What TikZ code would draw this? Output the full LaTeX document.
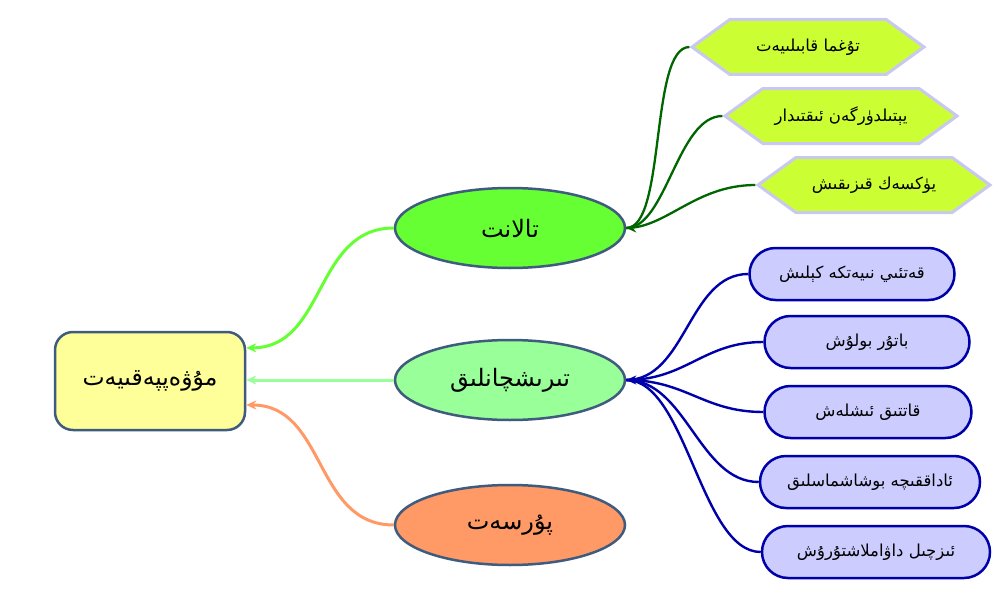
\documentclass[tikz,border=0pt]{standalone}
\usepackage{fontspec}
\usetikzlibrary{shapes.symbols,shapes.geometric,arrows.meta}
\newfontfamily\arabicfont[Script=Arabic]{DejaVu Sans}
\TeXXeTstate=1
\newcommand{\uytext}[1]{\arabicfont\beginR #1\endR}
\definecolor{boxborder}{HTML}{3F5C7E}
\definecolor{succfill}{HTML}{FFFF99}
\definecolor{talfill}{HTML}{66FF33}
\definecolor{dilfill}{HTML}{99FF99}
\definecolor{oppfill}{HTML}{FF9966}
\definecolor{hexfill}{HTML}{CCFF33}
\definecolor{hexborder}{HTML}{C8C8F0}
\definecolor{pillfill}{HTML}{CCCCFF}
\definecolor{pillborder}{HTML}{0000AA}
\definecolor{darkgreen}{HTML}{006600}
\tikzset{
  mainellipse/.style={ellipse, draw=boxborder, line width=2.5pt, minimum width=230pt, minimum height=80pt, inner sep=0pt, font=\fontsize{24}{28}\selectfont},
  succbox/.style={rectangle, rounded corners=18pt, draw=boxborder, line width=2.5pt, fill=succfill, minimum width=190pt, minimum height=98pt, font=\fontsize{23.5}{28}\selectfont},
  hexbox/.style={signal, signal to=east and west, signal pointer angle=72, draw=hexborder, line width=3pt, fill=hexfill, minimum width=232pt, minimum height=55pt, inner sep=0pt, font=\fontsize{16.5}{20}\selectfont},
  pillbox/.style={rectangle, rounded corners=26pt, draw=pillborder, line width=2.5pt, fill=pillfill, minimum height=52pt, inner sep=0pt, font=\fontsize{16.5}{20}\selectfont},
  talconn/.style={draw=talfill, line width=3pt, -{Stealth[length=10pt,width=9pt]}},
  dilconn/.style={draw=dilfill, line width=3pt, -{Stealth[length=10pt,width=9pt]}},
  oppconn/.style={draw=oppfill, line width=3pt, -{Stealth[length=10pt,width=9pt]}},
  hexconn/.style={draw=darkgreen, line width=2.3pt},
  pillconn/.style={draw=pillborder, line width=2.4pt},
}
\begin{document}
\begin{tikzpicture}[x=1pt,y=-1pt]
\useasboundingbox[fill=white] (0,0) rectangle (1004,594);
% main nodes
\node[succbox] (succ) at (150,381) {\uytext{مۇۋەپپەقىيەت}};
\node[mainellipse, fill=talfill] (tal) at (510,228) {\uytext{تالانت}};
\node[mainellipse, fill=dilfill] (dil) at (510,380) {\uytext{تىرىشچانلىق}};
\node[mainellipse, fill=oppfill] (opp) at (510,525) {\uytext{پۇرسەت}};
% hexagons
\node[hexbox] (h1) at (808,47) {\uytext{تۇغما قابىلىيەت}};
\node[hexbox] (h2) at (841,116) {\uytext{يېتىلدۈرگەن ئىقتىدار}};
\node[hexbox] (h3) at (874,185) {\uytext{يۈكسەك قىزىقىش}};
% pills
\node[pillbox, minimum width=205pt] (p1) at (852,274) {\uytext{قەتئىي نىيەتكە كېلىش}};
\node[pillbox, minimum width=205pt] (p2) at (867,342) {\uytext{باتۇر بولۇش}};
\node[pillbox, minimum width=207pt] (p3) at (868,412) {\uytext{قاتتىق ئىشلەش}};
\node[pillbox, minimum width=220pt] (p4) at (870,482) {\uytext{ئاداققىچە بوشاشماسلىق}};
\node[pillbox, minimum width=228pt] (p5) at (876,552) {\uytext{ئىزچىل داۋاملاشتۇرۇش}};
% connectors to success
\draw[talconn] (tal.west) .. controls +(-80,0) and +(80,0) .. (succ.19);
\draw[dilconn] (dil.west) -- (succ.east |- dil.west);
\draw[oppconn] (opp.west) .. controls +(-80,0) and +(80,0) .. (succ.-14);
% hex connectors
\draw[hexconn] (h1.west) .. controls +(-40,0) and +(40,0) .. (tal.east);
\draw[hexconn] (h2.west) .. controls +(-45,0) and +(40,0) .. (tal.east);
\draw[hexconn] (h3.west) .. controls +(-60,0) and +(40,0) .. (tal.east);
\draw[darkgreen, line width=2.3pt, -{Stealth[length=10pt,width=9pt]}] ([xshift=6pt]tal.east) -- (tal.east);
% pill connectors
\draw[pillconn] (p1.west) .. controls +(-60,0) and +(60,0) .. (dil.east);
\draw[pillconn] (p2.west) .. controls +(-60,0) and +(60,0) .. (dil.east);
\draw[pillconn] (p3.west) .. controls +(-60,0) and +(60,0) .. (dil.east);
\draw[pillconn] (p4.west) .. controls +(-60,0) and +(60,0) .. (dil.east);
\draw[pillconn] (p5.west) .. controls +(-60,0) and +(60,0) .. (dil.east);
\draw[pillborder, line width=2.4pt, -{Stealth[length=10pt,width=9pt]}] ([xshift=6pt]dil.east) -- (dil.east);
\end{tikzpicture}
\end{document}
